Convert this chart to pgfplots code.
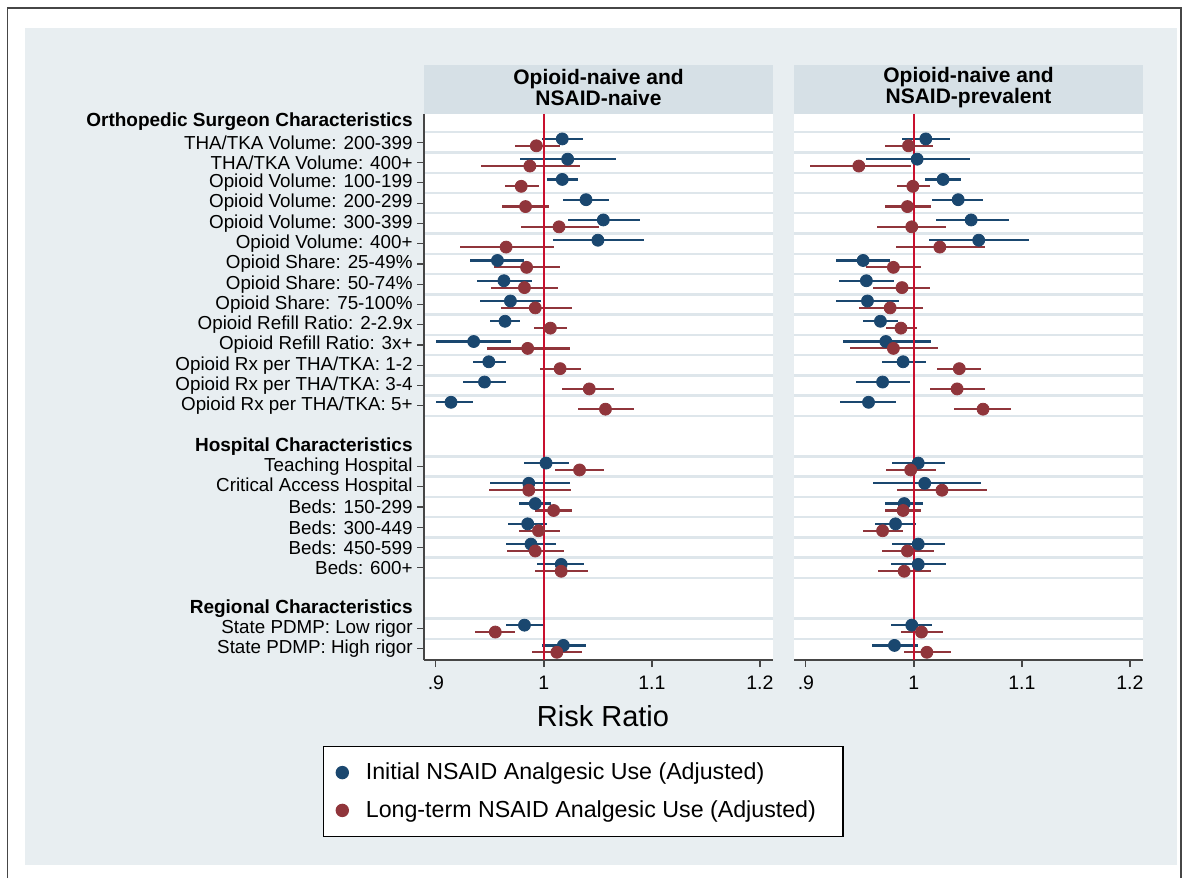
\documentclass[border=0pt]{standalone}
\usepackage{pgfplots}
\pgfplotsset{compat=1.18}
\usepackage{pgfplotstable}
\usepackage{fontspec}
\setmainfont{Liberation Sans}
\definecolor{navyS}{RGB}{26,71,111}
\definecolor{maroonS}{RGB}{144,53,59}
\definecolor{bgS}{RGB}{232,238,241}
\definecolor{stripS}{RGB}{214,224,230}
\definecolor{gridS}{RGB}{222,230,235}
\definecolor{refS}{RGB}{200,16,46}
\definecolor{axS}{RGB}{70,70,70}

\pgfplotstableread{
row est lo hi
1 1.017 0.998 1.036
2 1.022 0.978 1.067
3 1.017 1.003 1.032
4 1.039 1.018 1.060
5 1.055 1.022 1.089
6 1.050 1.008 1.093
7 0.957 0.932 0.982
8 0.963 0.938 0.989
9 0.969 0.941 0.997
10 0.964 0.950 0.978
11 0.935 0.900 0.970
12 0.949 0.934 0.965
13 0.945 0.925 0.965
14 0.914 0.900 0.934
17 1.002 0.982 1.023
18 0.986 0.950 1.024
19 0.992 0.977 1.007
20 0.985 0.967 1.003
21 0.988 0.965 1.011
22 1.016 0.994 1.037
25 0.982 0.965 0.999
26 1.018 0.998 1.039
}\LB

\pgfplotstableread{
row est lo hi
1 0.993 0.973 1.015
2 0.987 0.942 1.033
3 0.979 0.964 0.995
4 0.983 0.961 1.005
5 1.014 0.979 1.051
6 0.965 0.922 1.009
7 0.984 0.954 1.015
8 0.982 0.951 1.013
9 0.992 0.960 1.026
10 1.006 0.991 1.021
11 0.985 0.947 1.024
12 1.015 0.996 1.034
13 1.042 1.017 1.065
14 1.057 1.032 1.083
17 1.033 1.010 1.056
18 0.986 0.949 1.025
19 1.009 0.992 1.026
20 0.995 0.977 1.015
21 0.992 0.966 1.019
22 1.016 0.992 1.041
25 0.955 0.936 0.973
26 1.012 0.989 1.035
}\LR

\pgfplotstableread{
row est lo hi
1 1.011 0.989 1.033
2 1.003 0.956 1.052
3 1.027 1.010 1.044
4 1.041 1.017 1.064
5 1.053 1.020 1.088
6 1.060 1.014 1.107
7 0.953 0.928 0.978
8 0.956 0.931 0.982
9 0.957 0.928 0.986
10 0.969 0.953 0.985
11 0.974 0.934 1.016
12 0.990 0.970 1.011
13 0.971 0.946 0.996
14 0.958 0.932 0.983
17 1.004 0.980 1.029
18 1.010 0.962 1.062
19 0.991 0.973 1.008
20 0.983 0.964 1.002
21 1.004 0.980 1.029
22 1.004 0.979 1.030
25 0.998 0.979 1.017
26 0.982 0.961 1.004
}\RB

\pgfplotstableread{
row est lo hi
1 0.995 0.973 1.018
2 0.949 0.904 0.997
3 0.999 0.984 1.015
4 0.994 0.973 1.016
5 0.998 0.966 1.030
6 1.024 0.983 1.066
7 0.981 0.956 1.007
8 0.989 0.962 1.015
9 0.978 0.949 1.008
10 0.988 0.974 1.003
11 0.981 0.941 1.022
12 1.042 1.021 1.062
13 1.040 1.015 1.066
14 1.064 1.037 1.090
17 0.997 0.974 1.020
18 1.026 0.984 1.068
19 0.990 0.973 1.007
20 0.971 0.953 0.990
21 0.994 0.970 1.019
22 0.991 0.967 1.016
25 1.007 0.988 1.027
26 1.012 0.991 1.034
}\RR

\def\u{0.5pt}

\pgfplotsset{
  forest/.style={
    scale only axis, width=174.5pt, height=273pt,
    xmin=0.889, xmax=1.2121, ymin=-26.55, ymax=0.4,
    axis background/.style={fill=white},
    xtick={0.9,1,1.1,1.2}, xticklabels={.9,1,1.1,1.2},
    /pgf/number format/assume math mode=true,
    xticklabel style={font=\fontsize{9.75}{11}\selectfont, yshift=-1pt},
    tick align=outside, major tick length=3.5pt, minor tick length=0pt,
    tick style={axS, line width=0.6pt},
    separate axis lines,
    axis x line*=bottom, axis y line*=left,
    axis line style={axS, line width=0.8pt},
    minor ytick={-0.5,-1.5,-2.5,-3.5,-4.5,-5.5,-6.5,-7.5,-8.5,-9.5,-10.5,-11.5,-12.5,-13.5,-14.5,-16.5,-17.5,-18.5,-19.5,-20.5,-21.5,-22.5,-24.5,-25.5},
    yminorgrids, minor grid style={gridS, line width=1.2pt},
    ytick={-1,-2,-3,-4,-5,-6,-7,-8,-9,-10,-11,-12,-13,-14,-17,-18,-19,-20,-21,-22,-25,-26},
  },
  bser/.style={only marks, mark=*, mark size=3pt, color=navyS, mark options={fill=navyS, draw=navyS},
    error bars/.cd, x dir=both, x explicit, error mark=none,
    error bar style={line width=1.1pt, navyS}},
  rser/.style={only marks, mark=*, mark size=3pt, color=maroonS, mark options={fill=maroonS, draw=maroonS},
    error bars/.cd, x dir=both, x explicit, error mark=none,
    error bar style={line width=1.1pt, maroonS}},
}

\begin{document}
\begin{tikzpicture}
\useasboundingbox (0,0) rectangle ({1188*\u},{878*\u});
\fill[white] (0,0) rectangle ({1188*\u},{878*\u});
\fill[bgS] ({25*\u},{(878-865)*\u}) rectangle ({1177*\u},{(878-28)*\u});
\draw[axS, line width=0.8pt] ({7.5*\u},0) -- ({7.5*\u},{(878-8)*\u}) -- ({1181*\u},{(878-8)*\u}) -- ({1181*\u},0);

% strips
\fill[stripS] ({424*\u},{(878-65)*\u}) rectangle ({773*\u},{(878-114)*\u});
\fill[stripS] ({794*\u},{(878-65)*\u}) rectangle ({1143*\u},{(878-114)*\u});
\node[font=\bfseries\fontsize{10.5}{10.5}\selectfont, align=center] at ({598.5*\u},{(878-88)*\u}) {Opioid-naive and\\NSAID-naive};
\node[font=\bfseries\fontsize{10.5}{10.5}\selectfont, align=center] at ({968.5*\u},{(878-88)*\u}) {Opioid-naive and\\NSAID-prevalent};

\begin{axis}[forest, name=L, at={({424*\u},{(878-660)*\u})}, anchor=south west,
  yticklabels={THA/TKA Volume: 200-399, THA/TKA Volume: 400+, Opioid Volume: 100-199, Opioid Volume: 200-299, Opioid Volume: 300-399, Opioid Volume: 400+, Opioid Share: 25-49\%, Opioid Share: 50-74\%, Opioid Share: 75-100\%, Opioid Refill Ratio: 2-2.9x, Opioid Refill Ratio: 3x+, Opioid Rx per THA/TKA: 1-2, Opioid Rx per THA/TKA: 3-4, Opioid Rx per THA/TKA: 5+, Teaching Hospital, Critical Access Hospital, Beds: 150-299, Beds: 300-449, Beds: 450-599, Beds: 600+, State PDMP: Low rigor, State PDMP: High rigor},
  yticklabel style={font=\fontsize{9.4}{10}\selectfont, inner xsep=2pt},
  extra y ticks={0,-16,-24},
  extra y tick labels={Orthopedic Surgeon Characteristics, Hospital Characteristics, Regional Characteristics},
  extra y tick style={major tick style={draw=none}, yticklabel style={font=\bfseries\fontsize{9.5}{10}\selectfont, inner xsep=2pt}},
  legend style={at={(-0.2894,-0.1575)}, anchor=north west, draw=black, line width=0.7pt,
    font=\fontsize{11.6}{13}\selectfont, row sep=5pt, inner xsep=3pt, inner ysep=6pt, legend cell align=left},
  legend image code/.code={\path[draw=none, fill=none] (-6.3pt,-0.1pt) rectangle (9.8pt,0.1pt); \draw[#1] plot coordinates {(0pt,0pt)};},
]
\addplot+[bser] table[x=est, y expr=-\thisrow{row}+0.17, x error plus expr=\thisrow{hi}-\thisrow{est}, x error minus expr=\thisrow{est}-\thisrow{lo}] {\LB};
\addlegendentry{\makebox[233.5pt][l]{Initial NSAID Analgesic Use (Adjusted)}}
\addplot+[rser] table[x=est, y expr=-\thisrow{row}-0.17, x error plus expr=\thisrow{hi}-\thisrow{est}, x error minus expr=\thisrow{est}-\thisrow{lo}] {\LR};
\addlegendentry{\makebox[233.5pt][l]{Long-term NSAID Analgesic Use (Adjusted)}}
\draw[refS, line width=1pt] (axis cs:1,0.4) -- (axis cs:1,-26.55);
\end{axis}

\begin{axis}[forest, name=R, at={({794*\u},{(878-660)*\u})}, anchor=south west,
  yticklabels={}, y axis line style={draw=none}, y tick style={draw=none},
]
\addplot+[bser] table[x=est, y expr=-\thisrow{row}+0.17, x error plus expr=\thisrow{hi}-\thisrow{est}, x error minus expr=\thisrow{est}-\thisrow{lo}] {\RB};
\addplot+[rser] table[x=est, y expr=-\thisrow{row}-0.17, x error plus expr=\thisrow{hi}-\thisrow{est}, x error minus expr=\thisrow{est}-\thisrow{lo}] {\RR};
\draw[refS, line width=1pt] (axis cs:1,0.4) -- (axis cs:1,-26.55);
\end{axis}

\node[font=\fontsize{14.5}{16}\selectfont] at ({603*\u},{(878-716)*\u}) {Risk Ratio};
\end{tikzpicture}
\end{document}
